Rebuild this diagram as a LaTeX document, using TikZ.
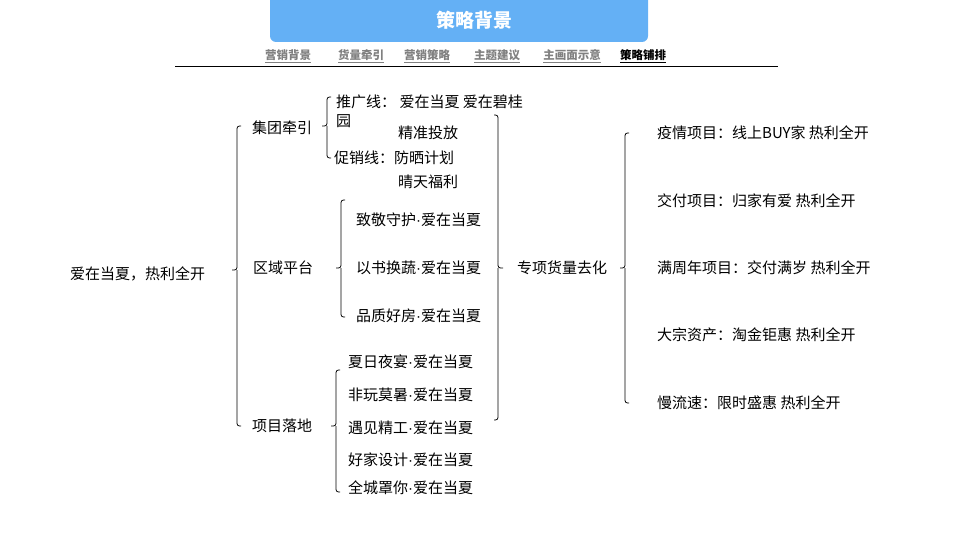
\documentclass[tikz,border=0pt]{standalone}
\usepackage{fontspec}
\setmainfont{Noto Sans CJK SC}
\newfontfamily\latn{Liberation Sans}
\usepackage{tikz}

\definecolor{barblue}{HTML}{64B0F5}
\newcommand{\dt}{{\latn ·}}
\tikzset{
  item/.style={anchor=west, inner sep=0pt, font=\fontsize{15}{17}\selectfont},
  nav/.style={inner sep=0pt, font=\fontsize{11.5}{13}\selectfont\bfseries, text=gray},
  brk/.style={line width=0.8pt, rounded corners=2.5pt}
}
% left bracket: x, top, mid, bottom
\newcommand{\lbrk}[4]{\draw[brk] (#1+4,#2) -- (#1,#2) -- (#1,#3) -- (#1-5,#3);
  \draw[brk] (#1,#3) -- (#1,#4) -- (#1+4,#4);}
\newcommand{\rbrk}[4]{\draw[brk] (#1-4,#2) -- (#1,#2) -- (#1,#3) -- (#1+5,#3);
  \draw[brk] (#1,#3) -- (#1,#4) -- (#1-4,#4);}

\begin{document}
\begin{tikzpicture}[x=1pt,y=-1pt]
        \useasboundingbox (0,0) rectangle (960,540);
        \fill [barblue, rounded corners=6pt] (270,-8) rectangle (648,42);
        \node [text=white, font=\fontsize{19}{21}\selectfont\bfseries] (title) at (474,20) {策略背景};
        \node [nav] (n1) at (288,56) {\underline{营销背景}};
        \node [nav] (n2) at (361,56) {\underline{货量牵引}};
        \node [nav] (n3) at (427,56) {\underline{营销策略}};
        \node [nav] (n4) at (497,56) {\underline{主题建议}};
        \node [nav] (n5) at (572,56) {\underline{主画面示意}};
        \node [nav, text=black] (n6) at (643,56) {\underline{策略铺排}};
        \draw [line width=0.8pt] (175,66) -- (778,66);

        \node [item] (root) at (70,274) {爱在当夏，热利全开};
        \node [item] (g1) at (252,128) {集团牵引};
        \node [item] (g2) at (253,268) {区域平台};
        \node [item] (g3) at (252,426) {项目落地};

        \node [item] (a1) at (336,102) {推广线： 爱在当夏 爱在碧桂};
        \node [item] (a2) at (336,121) {园};
        \node [item] (a3) at (398,133) {精准投放};
        \node [item] (a4) at (334,158) {促销线：防晒计划};
        \node [item] (a5) at (398,182) {晴天福利};

        \node [item] (b1) at (356,220) {致敬守护\dt 爱在当夏};
        \node [item] (b2) at (356,268) {以书换蔬\dt 爱在当夏};
        \node [item] (b3) at (356,316) {品质好房\dt 爱在当夏};

        \node [item] (c1) at (348,362) {夏日夜宴\dt 爱在当夏};
        \node [item] (c2) at (348,395) {非玩莫暑\dt 爱在当夏};
        \node [item] (c3) at (348,428) {遇见精工\dt 爱在当夏};
        \node [item] (c4) at (348,460) {好家设计\dt 爱在当夏};
        \node [item] (c5) at (348,488) {全城罩你\dt 爱在当夏};

        \node [item] (mid) at (517,268) {专项货量去化};

        \node [item] (d1) at (657,133) {疫情项目：线上BUY家 热利全开};
        \node [item] (d2) at (657,201) {交付项目：归家有爱 热利全开};
        \node [item] (d3) at (657,268) {满周年项目：交付满岁 热利全开};
        \node [item] (d4) at (657,335) {大宗资产：淘金钜惠 热利全开};
        \node [item] (d5) at (657,403) {慢流速：限时盛惠 热利全开};

        % brackets
        \lbrk{237}{126}{270}{426}
        \lbrk{327}{97}{126}{158}
        \lbrk{341}{200}{268}{317}
        \lbrk{336}{370}{426}{492}
        \rbrk{498}{115}{268}{420}
        \lbrk{625}{133}{268}{403}
    \end{tikzpicture}
\end{document}
